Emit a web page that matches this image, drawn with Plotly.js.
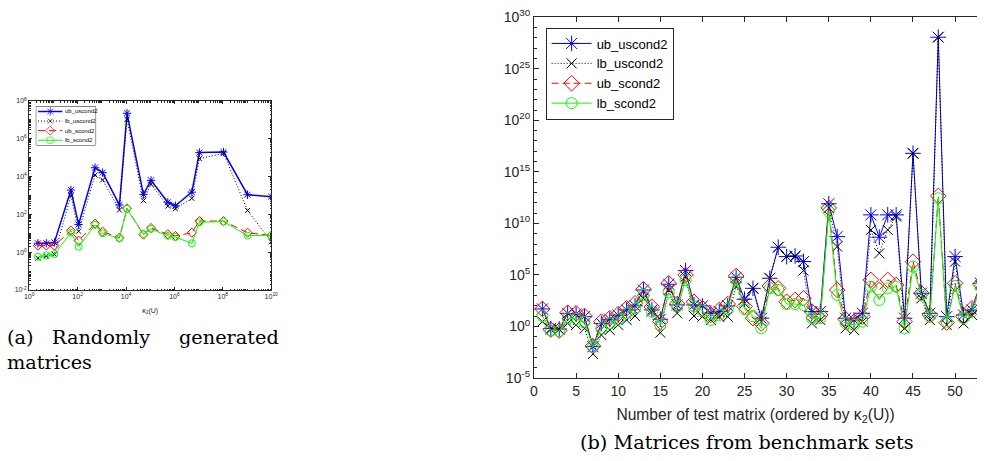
<!DOCTYPE html>
<html>
<head>
<meta charset="utf-8">
<script src="https://cdn.plot.ly/plotly-3.0.1.min.js"></script>
<style>html,body{margin:0;padding:0;background:#fff;overflow:hidden}#chart{width:984px;height:461px}</style>
</head>
<body>
<div id="chart"></div>
<script>
// ---------- Data: (a) randomly generated matrices ----------
const kappaA = [2.3, 5.1, 11, 53, 110, 525, 1080, 5350, 1.1e4, 5.25e4, 1.08e5, 5.35e5, 1.1e6, 5.25e6, 1.08e7, 1.07e8, 1.05e9, 1e10];
// values read as log10 exponents
const ubUscondA = [0.47, 0.47, 0.52, 3.29, 1.47, 4.47, 4.21, 2.5, 7.35, 3.06, 3.8, 2.64, 2.46, 3.18, 5.27, 5.3, 3.04, 2.94];
const lbUscondA = [-0.32, -0.2, -0.11, 2.99, 1.11, 4.08, 3.82, 2.23, 7.03, 2.73, 3.59, 2.44, 2.3, 2.85, 4.95, 5.23, 2.21, 0.56];
const ubScondA  = [0.35, 0.35, 0.35, 1.14, 0.61, 1.51, 1.09, 0.77, 2.32, 0.93, 1.28, 0.95, 0.86, 1.03, 1.65, 1.65, 1.03, 0.88];
const lbScondA  = [-0.24, -0.17, -0.1, 1.03, 0.29, 1.44, 1.0, 0.73, 2.29, 0.96, 1.23, 0.86, 0.8, 0.47, 1.58, 1.62, 0.88, 0.88];

// ---------- Data: (b) matrices from benchmark sets ----------
const matrixNo = [1,2,3,4,5,6,7,8,9,10,11,12,13,14,15,16,17,18,19,20,21,22,23,24,25,26,27,28,29,30,31,32,33,34,35,36,37,38,39,40,41,42,43,44,45,46,47,48,49,50,51,52,53];
const ubUscondB = [1.7,-0.2,-0.25,1.27,1.2,0.95,-1.96,0.3,0.7,1.1,1.6,2.0,3.54,1.6,0.7,4.1,2.09,5.42,2.09,2.0,1.28,1.44,2.0,4.77,2.64,3.7,0.8,4.68,7.69,6.78,6.84,6.3,1.44,1.44,11.9,8.72,0.8,0.63,1.28,10.83,8.66,10.83,10.83,0.8,16.8,3.22,1.28,28.07,0.95,6.78,1.12,1.6,4.2];
const lbUscondB = [0.47,-0.3,-0.3,0.3,0.15,-0.18,-2.67,-0.83,-0.34,0.15,0.63,1.02,2.73,1.44,-0.6,3.54,1.28,4.84,1.02,0.95,0.63,0.95,0.95,3.87,2.25,3.7,0.47,4.68,7.69,6.78,6.78,5.42,0.3,0.63,11.5,7.75,-0.18,-0.34,0.47,9.37,7.1,9.37,10.66,-0.18,16.8,2.73,0.63,28.07,0.15,6.29,0.3,1.12,4.0];
const ubScondB  = [1.7,-0.3,-0.4,1.34,1.28,1.02,-1.9,0.47,0.8,1.2,1.76,2.25,3.6,1.9,0.47,4.2,2.18,5.0,2.4,1.76,1.12,1.6,2.18,4.9,1.93,0.8,0.3,3.93,3.7,2.4,2.57,2.73,1.44,1.12,11.5,3.54,0.7,0.47,0.95,4.52,3.54,4.52,4.03,0.47,6.29,3.22,1.12,12.67,0.37,4.19,0.95,1.76,4.1];
const lbScondB  = [1.02,-0.4,-0.45,0.8,0.73,0.47,-2.0,-0.18,0.3,0.7,1.28,1.76,3.06,1.44,0.15,3.3,1.93,4.5,1.93,1.54,0.63,1.12,1.76,4.5,1.67,1.0,-0.18,3.7,3.54,2.18,2.18,2.09,0.8,0.8,11.15,3.06,0.3,0.15,0.47,3.87,2.57,3.7,3.87,-0.18,5.8,3.06,0.95,12.44,0.47,3.93,0.8,1.44,3.9];

const seriesNames = ['ub_uscond2', 'lb_uscond2', 'ub_scond2', 'lb_scond2'];

// tick labels
const yTickExpB = [-5, 0, 5, 10, 15, 20, 25, 30];
const xTickExpA = [0, 2, 4, 6, 8, 10];
const yTickExpA = [-2, 0, 2, 4, 6, 8];

// ---------- helpers ----------
const W = 984, H = 461;
const pxX = x => x / W;
const pxY = y => 1 - y / H;
const pow10 = arr => arr.map(v => Math.pow(10, v));
const supLabel = e => '10<sup>' + e + '</sup>';
function minorLog(lo, hi) { const out = []; for (let k = lo; k < hi; k++) for (let m = 2; m <= 9; m++) out.push(m * Math.pow(10, k)); return out; }
function decades(lo, hi) { const out = []; for (let k = lo; k <= hi; k++) out.push(Math.pow(10, k)); return out; }

const styles = [
  {color: '#0000ff', dash: 'solid', symbol: 'asterisk-open'},
  {color: '#000000', dash: '1px,2px', symbol: 'x-thin-open'},
  {color: '#ff0000', dash: '7px,4px', symbol: 'diamond-open'},
  {color: '#00ff00', dash: 'solid', symbol: 'circle-open'}
];
const sizesB = [13, 10, 12, 11];
const sizesA = [7, 5, 7, 7];

const dataA = [ubUscondA, lbUscondA, ubScondA, lbScondA];
const dataB = [ubUscondB, lbUscondB, ubScondB, lbScondB];

const traces = [];
dataA.forEach((ys, i) => {
  traces.push({
    x: kappaA, y: pow10(ys), xaxis: 'x', yaxis: 'y', type: 'scatter', mode: 'lines+markers',
    name: seriesNames[i], showlegend: false,
    line: {color: styles[i].color, dash: styles[i].dash, width: i === 0 ? 1.5 : 1},
    marker: {symbol: styles[i].symbol, size: sizesA[i], color: styles[i].color, line: {color: styles[i].color, width: 1}}
  });
});
dataB.forEach((ys, i) => {
  traces.push({
    x: matrixNo, y: pow10(ys), xaxis: 'x2', yaxis: 'y2', type: 'scatter', mode: 'lines+markers',
    name: seriesNames[i], showlegend: true,
    line: {color: styles[i].color, dash: styles[i].dash, width: 1},
    marker: {symbol: styles[i].symbol, size: sizesB[i], color: styles[i].color, line: {color: styles[i].color, width: 1}}
  });
});
// legend samples for panel (a) on a helper axis
seriesNames.forEach((n, i) => {
  traces.push({
    x: [0.03, 0.235, 0.44], y: [i + 1, i + 1, i + 1], xaxis: 'x3', yaxis: 'y3', type: 'scatter', mode: 'lines+markers',
    showlegend: false, hoverinfo: 'skip',
    line: {color: styles[i].color, dash: styles[i].dash, width: i === 0 ? 1.5 : 1},
    marker: {symbol: styles[i].symbol, size: [0, sizesA[i], 0], color: styles[i].color, line: {color: styles[i].color, width: 1}}
  });
});

const axisColor = '#262626';
const fontFam = 'Liberation Sans, Arial, sans-serif';
const serif = 'DejaVu Serif, serif';
const capFont = {family: serif, size: 19.3, color: '#000'};

const layout = {
  width: W, height: H,
  margin: {l: 0, r: 0, t: 0, b: 0, pad: 0},
  paper_bgcolor: '#fff', plot_bgcolor: '#fff',
  font: {family: fontFam, color: axisColor},
  showlegend: true,
  legend: {
    x: pxX(547.3), y: pxY(27.5), xanchor: 'left', yanchor: 'top',
    bgcolor: '#fff', bordercolor: axisColor, borderwidth: 1,
    font: {family: fontFam, size: 13, color: '#000'}, itemwidth: 40, tracegroupgap: 0
  },
  xaxis: {
    domain: [pxX(24.5), pxX(269.5)], anchor: 'y', type: 'log', range: [0, 10],
    tickmode: 'array', tickvals: pow10(xTickExpA), ticktext: xTickExpA.map(supLabel),
    ticks: 'inside', ticklen: 3, tickcolor: axisColor, showline: true, linecolor: axisColor, linewidth: 1,
    mirror: 'ticks', showgrid: false, zeroline: false, tickfont: {size: 7, color: axisColor},
    minor: {tickmode: 'array', tickvals: decades(0, 10).concat(minorLog(0, 10)), ticks: 'inside', ticklen: 1.5, tickcolor: axisColor, showgrid: false},
    title: {text: 'κ<sub>2</sub>(U)', font: {size: 7, color: axisColor}, standoff: 8}, automargin: true
  },
  yaxis: {
    domain: [pxY(290), pxY(101)], anchor: 'x', type: 'log', range: [-2, 8],
    tickmode: 'array', tickvals: pow10(yTickExpA), ticktext: yTickExpA.map(supLabel),
    ticks: 'inside', ticklen: 3, tickcolor: axisColor, showline: true, linecolor: axisColor, linewidth: 1,
    mirror: 'ticks', showgrid: false, zeroline: false, tickfont: {size: 7, color: axisColor},
    minor: {tickmode: 'array', tickvals: decades(-2, 8).concat(minorLog(-2, 8)), ticks: 'inside', ticklen: 1.5, tickcolor: axisColor, showgrid: false}
  },
  xaxis2: {
    domain: [pxX(535.5), 1], anchor: 'y2', range: [0, 52.6], tickmode: 'linear', tick0: 0, dtick: 5,
    ticks: 'inside', ticklen: 5, tickcolor: axisColor, showline: true, linecolor: axisColor, linewidth: 1,
    mirror: 'ticks', showgrid: false, zeroline: false, tickfont: {size: 14, color: axisColor},
    title: {text: 'Number of test matrix (ordered by κ<sub>2</sub>(U))', font: {size: 15.6, color: axisColor}, standoff: 11}, automargin: true
  },
  yaxis2: {
    domain: [pxY(378), pxY(17.3)], anchor: 'x2', type: 'log', range: [-5, 30],
    tickmode: 'array', tickvals: pow10(yTickExpB), ticktext: yTickExpB.map(supLabel),
    ticks: 'inside', ticklen: 5, tickcolor: axisColor, showline: true, linecolor: axisColor, linewidth: 1,
    mirror: false, showgrid: false, zeroline: false, tickfont: {size: 14, color: axisColor},
    minor: {tickmode: 'array', tickvals: decades(-5, 30), ticks: 'inside', ticklen: 3, tickcolor: axisColor, showgrid: false}
  },
  xaxis3: {domain: [pxX(31.7), pxX(91.7)], anchor: 'y3', range: [0, 1], visible: false, fixedrange: true},
  yaxis3: {domain: [pxY(145), pxY(106.7)], anchor: 'x3', range: [4.5, 0.5], visible: false, fixedrange: true},
  shapes: [
    {type: 'rect', xref: 'paper', yref: 'paper', x0: pxX(31.7), x1: pxX(91.7), y0: pxY(145), y1: pxY(106.7),
     line: {color: axisColor, width: 1}, fillcolor: 'rgba(0,0,0,0)', layer: 'below'}
  ],
  annotations: [
    ...seriesNames.map((n, i) => ({xref: 'x3', yref: 'y3', x: 0.455, y: i + 1, text: n, showarrow: false,
      xanchor: 'left', yanchor: 'middle', font: {family: fontFam, size: 6, color: '#000'}})),
    {xref: 'paper', yref: 'paper', x: pxX(0), y: pxY(337), text: '(a)', showarrow: false, xanchor: 'left', yanchor: 'middle', font: capFont},
    {xref: 'paper', yref: 'paper', x: pxX(46), y: pxY(337), text: 'Randomly', showarrow: false, xanchor: 'left', yanchor: 'middle', font: capFont},
    {xref: 'paper', yref: 'paper', x: pxX(279), y: pxY(337), text: 'generated', showarrow: false, xanchor: 'right', yanchor: 'middle', font: capFont},
    {xref: 'paper', yref: 'paper', x: pxX(0), y: pxY(362), text: 'matrices', showarrow: false, xanchor: 'left', yanchor: 'middle', font: capFont},
    {xref: 'paper', yref: 'paper', x: pxX(751.5), y: pxY(442), text: '(b) Matrices from benchmark sets', showarrow: false, xanchor: 'center', yanchor: 'middle', font: capFont}
  ]
};

Plotly.newPlot('chart', traces, layout, {staticPlot: true, displayModeBar: false});
</script>
</body>
</html>
